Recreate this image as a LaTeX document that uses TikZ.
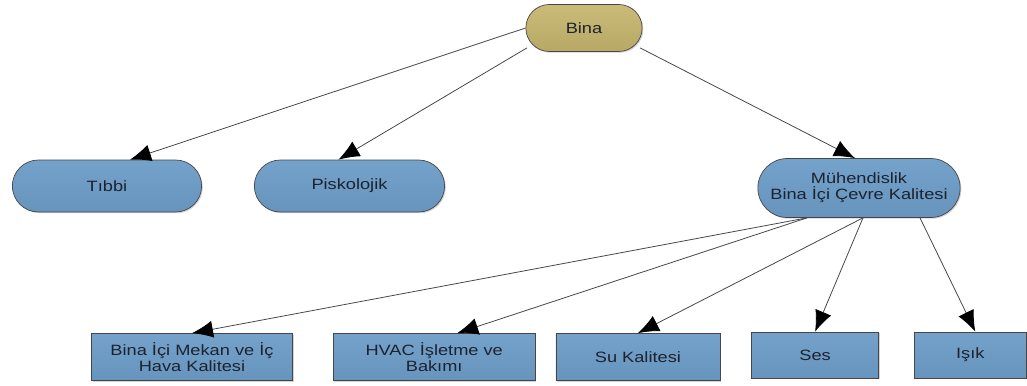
\documentclass[tikz,border=0pt]{standalone}
\usepackage{fontspec}
\newfontfamily\diagfont[FakeStretch=1.22]{Liberation Sans}
\usepackage{tikz}
\usetikzlibrary{%
  shapes.misc, arrows.meta, positioning, shadows
}
\usepackage{xcolor}
\definecolor{linegray}{RGB}{70,70,72}
\definecolor{textgray}{RGB}{30,34,46}
\definecolor{bluetop}{RGB}{116,162,202}
\definecolor{bluebot}{RGB}{102,148,189}
\definecolor{goldtop}{RGB}{202,187,120}
\definecolor{goldbot}{RGB}{184,168,102}
\tikzstyle{topnode} = [%
  rounded rectangle,
  draw=linegray,
  top color=goldtop,
  bottom color=goldbot,
  minimum width=2.56cm,
  minimum height=0.94cm,
  text=textgray,
  drop shadow={shadow xshift=0.7pt, shadow yshift=-0.7pt, opacity=0.35}
]
\tikzstyle{catnode} = [%
  rounded rectangle,
  draw=linegray,
  top color=bluetop,
  bottom color=bluebot,
  minimum height=1.04cm,
  text=textgray,
  drop shadow={shadow xshift=0.7pt, shadow yshift=-0.7pt, opacity=0.35}
]
\tikzstyle{leafnode} = [%
  rectangle,
  draw=linegray,
  top color=bluetop,
  bottom color=bluebot,
  minimum height=0.94cm,
  text=textgray,
  drop shadow={shadow xshift=0.7pt, shadow yshift=-0.7pt, opacity=0.35}
]

\begin{document}
\begin{tikzpicture}[%
  >={Latex[length=0.42cm,width=0.34cm,fill=black,color=black]},
  every node/.style={%
    font=\diagfont\fontsize{8.5}{9}\selectfont,
    text centered,
    align=center
  },
  edge/.style={->, draw=linegray, line width=0.45pt}
]
  \useasboundingbox (0,0) rectangle (20.54,-7.70);

  % Nodes
  \node[topnode] (bina) at (11.68,-0.56) {Bina};
  \node[catnode,minimum width=4.02cm] (tibbi) at (2.14,-3.72) {Tıbbi};
  \node[catnode,minimum width=4.04cm,right=1.04cm of tibbi] (psiko) {Piskolojik};
  \node[catnode,minimum width=4.28cm,minimum height=1.18cm] (muh) at (17.18,-3.76) {Mühendislik\\Bina İçi Çevre Kalitesi};

  \node[leafnode,minimum width=4.02cm] (bim) at (3.84,-7.14) {Bina İçi Mekan ve İç\\Hava Kalitesi};
  \node[leafnode,minimum width=4.04cm,right=0.8cm of bim] (hvac) {HVAC İşletme ve\\Bakımı};
  \node[leafnode,minimum width=3.28cm,right=0.4cm of hvac] (su) {Su Kalitesi};
  \node[leafnode,minimum width=2.54cm,minimum height=0.92cm,right=0.62cm of su,yshift=0.04cm] (ses) {Ses};
  \node[leafnode,minimum width=2.24cm,minimum height=0.92cm,right=0.7cm of ses] (isik) {Işık};

  % Top edges
  \draw[edge] (bina.west) -- ([xshift=0.46cm]tibbi.north);
  \draw[edge] ([xshift=-1.14cm,yshift=0.08cm]bina.south) -- ([xshift=-0.22cm]psiko.north);
  \draw[edge] ([xshift=1.12cm,yshift=0.08cm]bina.south) -- ([xshift=-0.08cm]muh.north);

  % Bottom edges
  \draw[edge] ([xshift=-1.04cm]muh.south) -- (bim.north);
  \draw[edge] ([xshift=-1.04cm]muh.south) -- ([xshift=0.46cm]hvac.north);
  \draw[edge] ([xshift=0.08cm]muh.south) -- (su.north);
  \draw[edge] ([xshift=0.08cm]muh.south) -- (ses.north);
  \draw[edge] ([xshift=1.22cm]muh.south) -- ([xshift=0.1cm]isik.north);

\end{tikzpicture}
\end{document}
